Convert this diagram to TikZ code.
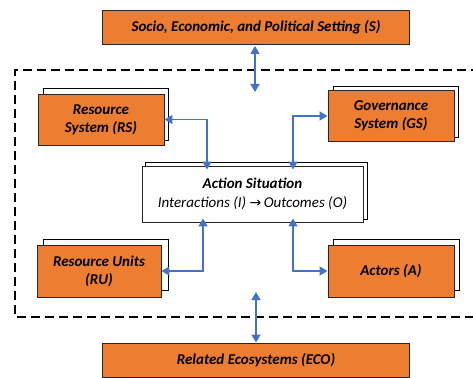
\documentclass[tikz,border=0pt]{standalone}
\usepackage{fontspec}
\setmainfont{Carlito}
\newfontfamily\arrowfont{DejaVu Sans}
\usetikzlibrary{arrows.meta,calc}
\definecolor{boxorange}{HTML}{ED7D31}
\definecolor{linkblue}{HTML}{4472C4}
\definecolor{edgegray}{HTML}{262626}
\tikzset{
  mainbox/.style={draw=edgegray, line width=0.9pt, fill=boxorange, align=center,
    font=\fontsize{15}{18}\selectfont\bfseries\itshape, inner sep=0pt},
  backbox/.style={draw=black, line width=0.9pt, fill=white},
  link/.style={draw=linkblue, line width=1.5pt,
    {Triangle[length=8pt,width=9pt]}-{Triangle[length=8pt,width=9pt]}},
}
\begin{document}
\begin{tikzpicture}[x=1pt,y=-1pt]
\useasboundingbox (0,0) rectangle (473,377);
\begin{scope}
\clip (0,0) rectangle (473,377);
% outer dashed frame, running off to the right
\draw[line width=1.8pt, dash pattern=on 9pt off 5pt] (480,70) -- (15,70) -- (15,317) -- (480,317);

% top and bottom setting boxes
\node[mainbox, minimum width=307pt, minimum height=34pt] (s) at (256,27) {Socio, Economic, and Political Setting (S)};
\node[mainbox, minimum width=307pt, minimum height=34pt] (eco) at (256,360.5) {Related Ecosystems (ECO)};

% stacked boxes: white card behind, orange card in front
\draw[backbox] (43,88) rectangle (168,140);
\node[mainbox, minimum width=126pt, minimum height=51pt] (rs) at (101,119.5) {Resource\\System (RS)};

\draw[backbox] (333,86) rectangle (458,137);
\node[mainbox, minimum width=126pt, minimum height=51pt] (gs) at (391,116) {Governance\\System (GS)};

\draw[backbox] (43,239) rectangle (168,290);
\node[mainbox, minimum width=124pt, minimum height=52pt] (ru) at (99,271) {Resource Units\\(RU)};

\draw[backbox] (333,239) rectangle (459,290);
\node[mainbox, minimum width=126pt, minimum height=52pt] (a) at (391,271) {Actors (A)};

% central action situation
\draw[backbox] (145,162) rectangle (367,219);
\node[draw=edgegray, line width=0.9pt, fill=white, minimum width=221pt, minimum height=56pt,
  align=center, inner sep=0pt, font=\fontsize{15}{19}\selectfont\itshape] (as) at (252.5,194)
  {\textbf{Action Situation}\\
   Interactions (I) {\arrowfont\fontsize{14}{19}\selectfont→}\,Outcomes (O)};

% connectors
\coordinate (frameTop) at (255,92);
\coordinate (frameBot) at (256,292);
\draw[link, shorten <=1.5pt] (s.south -| frameTop) -- (frameTop);
\draw[link, shorten >=0.5pt] (frameBot) -- (eco.north -| frameBot);
\draw[link] (rs.east) -| ([xshift=-45.5pt, yshift=-4pt]as.north);
\draw[link] ([xshift=40.5pt, yshift=-4pt]as.north) |- (gs.west);
\draw[link] ([xshift=-49.5pt, yshift=4pt]as.south) |- (ru.east);
\draw[link] ([xshift=40.5pt, yshift=4pt]as.south) |- (a.west);
\end{scope}
\end{tikzpicture}
\end{document}
